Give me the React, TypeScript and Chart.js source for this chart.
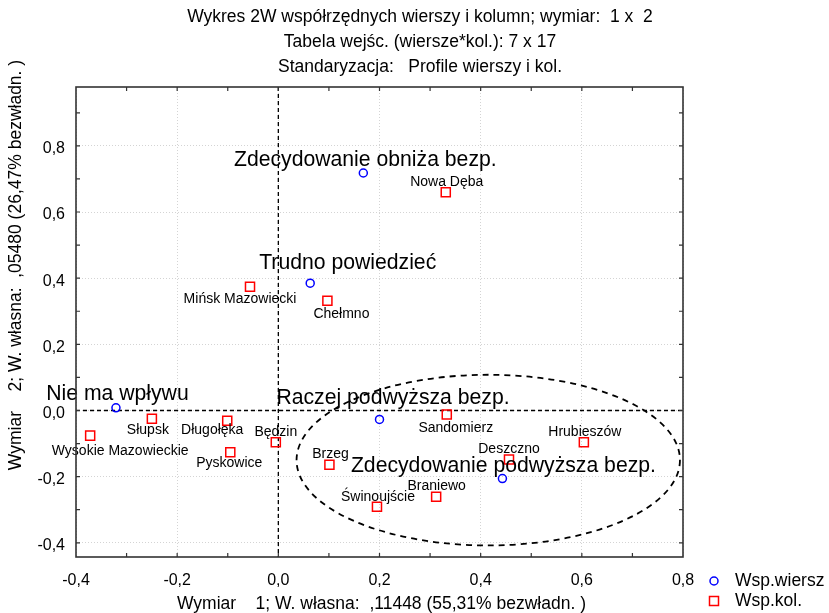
import React, { useEffect, useRef } from "react";
import { Chart, registerables } from "chart.js";

Chart.register(...registerables);

const TITLE_LINES = [
  "Wykres 2W współrzędnych wierszy i kolumn; wymiar:  1 x  2",
  "Tabela wejśc. (wiersze*kol.): 7 x 17",
  "Standaryzacja:   Profile wierszy i kol.",
];
const X_TITLE = "Wymiar    1; W. własna:  ,11448 (55,31% bezwładn. )";
const Y_TITLE = "Wymiar    2; W. własna:  ,05480 (26,47% bezwładn. )";
const X_TICKS = [-0.4, -0.2, 0, 0.2, 0.4, 0.6, 0.8];
const Y_TICKS = [-0.4, -0.2, 0, 0.2, 0.4, 0.6, 0.8];
const X_MARKS = [-0.3, -0.2, -0.1, 0, 0.1, 0.2, 0.3, 0.4, 0.5, 0.6, 0.7];
const Y_MARKS = [-0.4, -0.3, -0.2, -0.1, 0, 0.1, 0.2, 0.3, 0.4, 0.5, 0.6, 0.7, 0.8, 0.9];
const X_RANGE = [-0.4, 0.8];
const Y_RANGE = [-0.443, 0.978];

const ROW_NAMES = [
  "Zdecydowanie obniża bezp.",
  "Trudno powiedzieć",
  "Nie ma wpływu",
  "Raczej podwyższa bezp.",
  "Zdecydowanie podwyższa bezp.",
];
const ROW_X = [0.168, 0.063, -0.321, 0.2, 0.443];
const ROW_Y = [0.718, 0.385, 0.008, -0.027, -0.206];

const COL_NAMES = [
  "Nowa Dęba",
  "Mińsk Mazowiecki",
  "Chełmno",
  "Słupsk",
  "Wysokie Mazowieckie",
  "Długołęka",
  "Pyskowice",
  "Będzin",
  "Sandomierz",
  "Hrubieszów",
  "Deszczno",
  "Brzeg",
  "Braniewo",
  "Świnoujście",
];
const COL_X = [0.331, -0.056, 0.097, -0.25, -0.372, -0.101, -0.095, -0.005, 0.333, 0.604, 0.456, 0.101, 0.312, 0.195];
const COL_Y = [0.66, 0.374, 0.332, -0.025, -0.076, -0.031, -0.126, -0.096, -0.012, -0.096, -0.148, -0.164, -0.261, -0.291];

// ellipse in data units: centre x, centre y, radius x, radius y
const ELLIPSE = [0.415, -0.15, 0.379, 0.258];

const LEGEND_LABELS = ["Wsp.wiersz", "Wsp.kol."];

// layout (pixel offsets of label centres relative to their marker)
const ROW_LABEL_OFFSETS: [number, number][] = [
  [2, -13],
  [37.5, -20],
  [1.5, -14],
  [13.5, -21],
  [1, -12],
];
const COL_LABEL_OFFSETS: [number, number][] = [
  [1, -10],
  [-10, 12],
  [14, 13],
  [-4, 11.5],
  [30, 16],
  [-15, 9.5],
  [-1, 11],
  [0, -10],
  [9, 14],
  [1, -10],
  [0, -10],
  [1, -10.5],
  [0.5, -10.5],
  [1, -10],
];

const FONT = '"Liberation Sans", Arial, sans-serif';
const W = 829;
const H = 613;

const fmt = (v: number) => (Math.abs(v) < 1e-9 ? 0 : v).toFixed(1).replace(".", ",");

const decoPlugin = {
  id: "deco",
  beforeDatasetsDraw(chart: any) {
    const { ctx, chartArea: a, scales } = chart;
    const x = scales.x;
    const y = scales.y;
    ctx.save();
    ctx.beginPath();
    ctx.rect(a.left, a.top, a.right - a.left, a.bottom - a.top);
    ctx.clip();
    ctx.strokeStyle = "#000";
    ctx.lineWidth = 1.3;
    ctx.setLineDash([4, 3]);
    const x0 = x.getPixelForValue(0);
    const y0 = y.getPixelForValue(0);
    ctx.beginPath();
    ctx.moveTo(x0, a.top);
    ctx.lineTo(x0, a.bottom);
    ctx.moveTo(a.left, y0);
    ctx.lineTo(a.right, y0);
    ctx.stroke();

    const [cx, cy, rx, ry] = ELLIPSE;
    const pcx = x.getPixelForValue(cx);
    const pcy = y.getPixelForValue(cy);
    const prx = x.getPixelForValue(cx + rx) - pcx;
    const pry = pcy - y.getPixelForValue(cy + ry);
    ctx.setLineDash([6, 5]);
    ctx.lineWidth = 1.8;
    ctx.beginPath();
    ctx.ellipse(pcx, pcy, prx, pry, 0, 0, Math.PI * 2);
    ctx.stroke();
    ctx.restore();
  },
  afterDatasetsDraw(chart: any) {
    const { ctx, chartArea: a, scales } = chart;
    const x = scales.x;
    const y = scales.y;
    ctx.save();
    ctx.setLineDash([]);
    ctx.fillStyle = "#000";
    ctx.textAlign = "center";
    ctx.textBaseline = "middle";

    // column labels
    ctx.font = `14px ${FONT}`;
    COL_NAMES.forEach((n, i) => {
      const px = x.getPixelForValue(COL_X[i]) + COL_LABEL_OFFSETS[i][0];
      const py = y.getPixelForValue(COL_Y[i]) + COL_LABEL_OFFSETS[i][1];
      ctx.fillText(n, px, py);
    });
    // row labels
    ctx.font = `21.2px ${FONT}`;
    ROW_NAMES.forEach((n, i) => {
      const px = x.getPixelForValue(ROW_X[i]) + ROW_LABEL_OFFSETS[i][0];
      const py = y.getPixelForValue(ROW_Y[i]) + ROW_LABEL_OFFSETS[i][1];
      ctx.fillText(n, px, py);
    });

    // frame
    ctx.strokeStyle = "#333";
    ctx.lineWidth = 1.6;
    ctx.strokeRect(a.left, a.top, a.right - a.left, a.bottom - a.top);

    // inward tick marks
    ctx.lineWidth = 1.2;
    ctx.beginPath();
    X_MARKS.forEach((v) => {
      const px = x.getPixelForValue(v);
      ctx.moveTo(px, a.top);
      ctx.lineTo(px, a.top + 4);
      ctx.moveTo(px, a.bottom);
      ctx.lineTo(px, a.bottom - 4);
    });
    Y_MARKS.forEach((v) => {
      const py = y.getPixelForValue(v);
      ctx.moveTo(a.left, py);
      ctx.lineTo(a.left + 4, py);
      ctx.moveTo(a.right, py);
      ctx.lineTo(a.right - 4, py);
    });
    ctx.stroke();

    // tick labels
    ctx.font = `16px ${FONT}`;
    ctx.textAlign = "center";
    X_TICKS.forEach((v) => {
      ctx.fillText(fmt(v), x.getPixelForValue(v), a.bottom + 24);
    });
    ctx.textAlign = "right";
    Y_TICKS.forEach((v) => {
      ctx.fillText(fmt(v), a.left - 11, y.getPixelForValue(v) + 3);
    });

    // titles
    ctx.textAlign = "center";
    ctx.font = `17.5px ${FONT}`;
    TITLE_LINES.forEach((t, i) => ctx.fillText(t, 420, 17 + i * 25));
    ctx.fillText(X_TITLE, (a.left + a.right) / 2 + 2, 604);
    ctx.save();
    ctx.translate(16, 265);
    ctx.rotate(-Math.PI / 2);
    ctx.fillText(Y_TITLE, 0, 0);
    ctx.restore();

    // legend
    ctx.lineWidth = 1.5;
    ctx.strokeStyle = "#0000ff";
    ctx.beginPath();
    ctx.arc(714, 581, 4, 0, Math.PI * 2);
    ctx.stroke();
    ctx.strokeStyle = "#ff0000";
    ctx.strokeRect(709.5, 596.5, 9, 9);
    ctx.textAlign = "left";
    ctx.font = `17.5px ${FONT}`;
    ctx.fillText(LEGEND_LABELS[0], 735, 581);
    ctx.fillText(LEGEND_LABELS[1], 735, 601);
    ctx.restore();
  },
};

export default function App() {
  const ref = useRef<HTMLCanvasElement>(null);
  useEffect(() => {
    if (!ref.current) return;
    const chart = new Chart(ref.current, {
      type: "scatter",
      data: {
        datasets: [
          {
            label: LEGEND_LABELS[0],
            data: ROW_X.map((v, i) => ({ x: v, y: ROW_Y[i] })),
            pointStyle: "circle",
            pointRadius: 4,
            borderColor: "#0000ff",
            backgroundColor: "rgba(0,0,0,0)",
            borderWidth: 1.5,
          },
          {
            label: LEGEND_LABELS[1],
            data: COL_X.map((v, i) => ({ x: v, y: COL_Y[i] })),
            pointStyle: "rect",
            pointRadius: 6.4,
            borderColor: "#ff0000",
            backgroundColor: "rgba(0,0,0,0)",
            borderWidth: 1.5,
          },
        ],
      },
      options: {
        animation: false,
        responsive: false,
        devicePixelRatio: 1,
        layout: { padding: { left: 76, top: 87, right: W - 683, bottom: H - 557 } },
        plugins: { legend: { display: false }, tooltip: { enabled: false }, title: { display: false } },
        scales: {
          x: {
            type: "linear",
            min: X_RANGE[0],
            max: X_RANGE[1],
            ticks: { display: false },
            grid: { color: "#d4d4d4", lineWidth: 1, drawTicks: false },
            border: { display: false, dash: [1, 2] },
            afterBuildTicks: (ax: any) => {
              ax.ticks = X_TICKS.map((v) => ({ value: v }));
            },
          },
          y: {
            type: "linear",
            min: Y_RANGE[0],
            max: Y_RANGE[1],
            ticks: { display: false },
            grid: { color: "#d4d4d4", lineWidth: 1, drawTicks: false },
            border: { display: false, dash: [1, 2] },
            afterBuildTicks: (ax: any) => {
              ax.ticks = Y_TICKS.map((v) => ({ value: v }));
            },
          },
        },
      },
      plugins: [decoPlugin],
    } as any);
    return () => chart.destroy();
  }, []);
  return (
    <div style={{ position: "fixed", left: 0, top: 0, width: W, height: H, background: "#fff" }}>
      <canvas ref={ref} width={W} height={H} style={{ display: "block", width: W, height: H }} />
    </div>
  );
}
